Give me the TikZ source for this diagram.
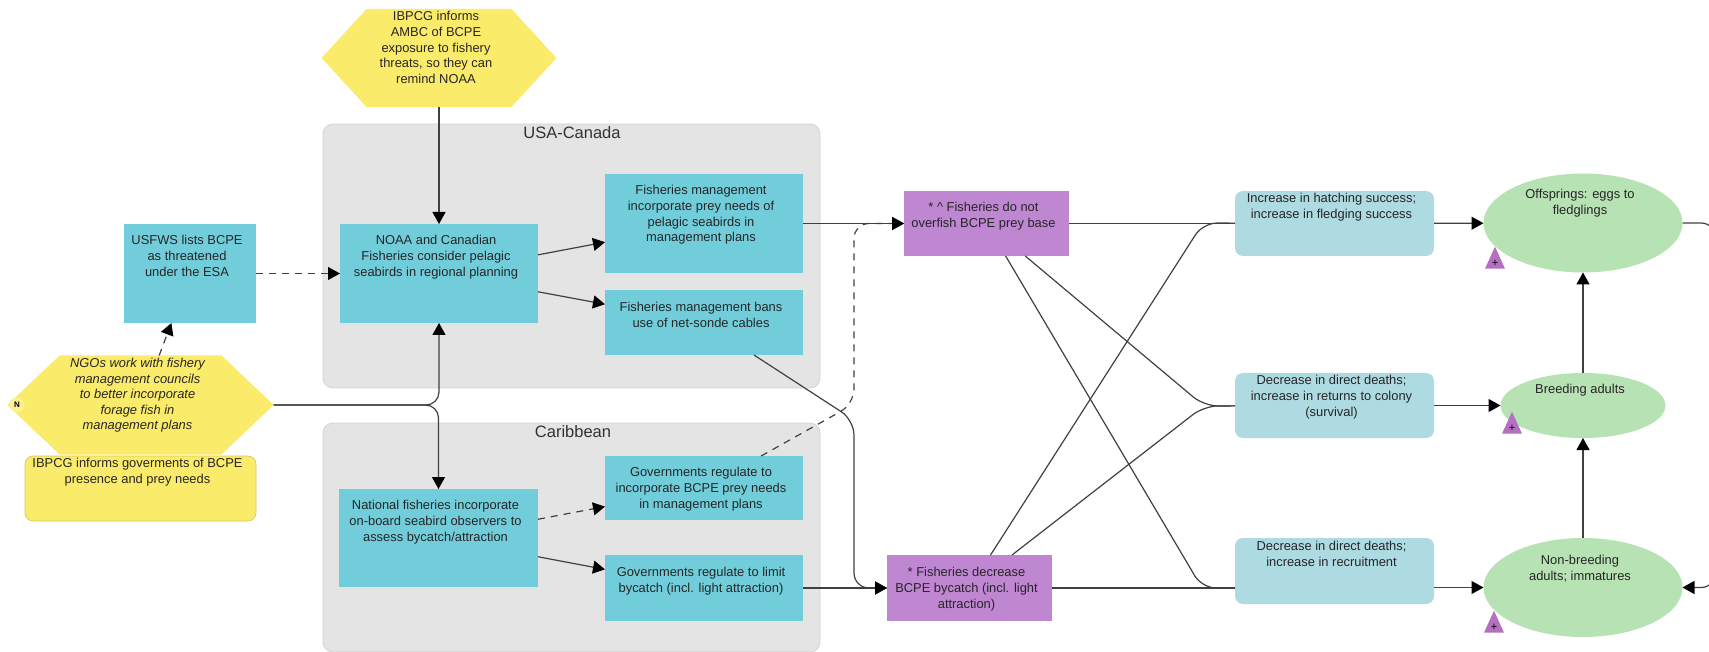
\documentclass[tikz,border=0pt]{standalone}
\usepackage{xcolor}
\usepackage{fontspec}
\setmainfont{Liberation Sans}
\usepackage{tikz}
\usetikzlibrary{arrows.meta}
\usetikzlibrary{calc}
\usetikzlibrary{shapes}
\definecolor{C0}{HTML}{72CDDB}
\definecolor{C1}{HTML}{FBEB6B}
\definecolor{C2}{HTML}{BF86D2}
\definecolor{C3}{HTML}{AEDAE2}
\definecolor{C4}{HTML}{B7E2B3}
\definecolor{C5}{HTML}{E4E4E4}
\definecolor{C6}{HTML}{B56FC0}
\definecolor{C7}{HTML}{404040}
\newcommand{\boxtext}[4]{\parbox[c][#2pt][t]{#1pt}{\centering\rightskip=6pt plus 1fil\relax\vspace*{#3pt}\strut #4}}
\tikzset{>={Triangle[length=12pt, width=13pt, color=black]}}
\tikzstyle{txt} = [inner sep=0pt, outer sep=0pt, font=\fontsize{12.9}{15.6}\selectfont, text=black!85]
\tikzstyle{group} = [rectangle, rounded corners=10pt, fill=C5, draw=C5!92!black, line width=0.8pt, minimum width=497pt]
\tikzstyle{grouplabel} = [inner sep=0pt, font=\fontsize{16.5}{19}\selectfont, text=black!80]
\tikzstyle{action} = [txt, rectangle, fill=C0]
\tikzstyle{threat} = [txt, rectangle, fill=C2]
\tikzstyle{result} = [txt, rectangle, rounded corners=8pt, fill=C3]
\tikzstyle{target} = [txt, ellipse, fill=C4, inner sep=0pt, minimum width=199pt]
\tikzstyle{hexa} = [txt, signal, signal to=west and east, signal from=nowhere, fill=C1]
\tikzstyle{plus} = [isosceles triangle, shape border rotate=90, isosceles triangle stretches, inner sep=0pt, outer sep=0pt, minimum height=22pt, minimum width=20pt, fill=C6, font=\fontsize{11}{11}\selectfont]
\tikzstyle{link} = [draw=C7, line width=1.2pt]
\tikzstyle{weak} = [link, dash pattern=on 7pt off 6pt]

\begin{document}
\begin{tikzpicture}[x=1pt, y=-1pt]
	\useasboundingbox (0, 0) rectangle (1709, 652) ;

	\node[group, minimum height=264pt] (usa) at (571.5, 256) {} ;
	\node[group, minimum height=229pt] (car) at (571.5, 537.5) {} ;
	\node[grouplabel] (usaL) at (572, 133) {USA-Canada} ;
	\node[grouplabel] (carL) at (573, 432) {Caribbean} ;

	\node[hexa, signal pointer angle=95] (ibpcgA) at (439, 58) {\boxtext{145}{98}{1}{IBPCG informs\\AMBC of BCPE\\exposure to fishery\\threats, so they can\\remind NOAA}} ;
	\node[hexa, signal pointer angle=87] (ngo) at (140.5, 405) {\boxtext{162}{99}{1}{\itshape NGOs work with fishery\\management councils\\to better incorporate\\forage fish in\\management plans}} ;
	\node[txt, rectangle, rounded corners=8pt, fill=C1, draw=C1!85!black, line width=0.6pt] (ibpcgB) at (140.5, 488.5) {\boxtext{231}{65}{1}{IBPCG informs goverments of BCPE\\presence and prey needs}} ;
	\node[circle, fill=C1!75!white, inner sep=0pt, minimum size=15pt, font=\bfseries\fontsize{8}{8}\selectfont] (N) at (17, 405) {N} ;

	\node[action] (usfws) at (190, 273.5) {\boxtext{132}{99}{10}{USFWS lists BCPE\\as threatened\\under the ESA}} ;
	\node[action] (noaa) at (439, 273.5) {\boxtext{198}{99}{10}{NOAA and Canadian\\Fisheries consider pelagic\\seabirds in regional planning}} ;
	\node[action] (fishA) at (704, 223.5) {\boxtext{198}{99}{10}{Fisheries management\\incorporate prey needs of\\pelagic seabirds in\\management plans}} ;
	\node[action] (fishB) at (704, 322.5) {\boxtext{198}{65}{11}{Fisheries management bans\\use of net-sonde cables}} ;
	\node[action] (natl) at (438.5, 538) {\boxtext{199}{98}{10}{National fisheries incorporate\\on-board seabird observers to\\assess bycatch/attraction}} ;
	\node[action] (govA) at (704, 488) {\boxtext{198}{64}{10}{Governments regulate to\\incorporate BCPE prey needs\\in management plans}} ;
	\node[action] (govB) at (704, 588) {\boxtext{198}{66}{11}{Governments regulate to limit\\bycatch (incl. light attraction)}} ;

	\node[threat] (prey) at (986.5, 223.5) {\boxtext{165}{65}{10}{* \^{} Fisheries do not\\overfish BCPE prey base}} ;
	\node[threat] (catch) at (969.5, 588) {\boxtext{165}{66}{11}{* Fisheries decrease\\BCPE bycatch (incl. light\\attraction)}} ;

	\node[result] (resA) at (1334.5, 223.5) {\boxtext{199}{65}{1}{Increase in hatching success;\\increase in fledging success}} ;
	\node[result] (resB) at (1334.5, 405.5) {\boxtext{199}{65}{1}{Decrease in direct deaths;\\increase in returns to colony\\(survival)}} ;
	\node[result] (resC) at (1334.5, 571) {\boxtext{199}{66}{2}{Decrease in direct deaths;\\increase in recruitment}} ;

	\node[target] (off) at (1583, 223) {\boxtext{140}{70}{0}{Offsprings: eggs to\\fledglings}} ;
	\node[target, minimum width=165pt, minimum height=65pt] (brd) at (1583, 405.5) {\boxtext{116}{46}{0}{Breeding adults}} ;
	\node[target] (non) at (1583, 587.5) {\boxtext{140}{70}{1}{Non-breeding\\adults; immatures}} ;

	\foreach \n/\x/\y in {1/1495/263, 2/1512/428, 3/1494/627}
	{
		\node[plus] (T\n) at (\x, \y) {+} ;
	}

	\coordinate (bendA) at (854, 420) ;
	\coordinate (bendB) at (854, 404) ;
	\coordinate (bendC) at (1204, 406) ;
	\coordinate (bendD) at (1202, 588) ;
	\coordinate (bendE) at (1203, 223) ;
	\coordinate (turnA) at (1716, 223) ;
	\coordinate (turnB) at (1716, 587.5) ;

	\foreach \a/\b in {ibpcgA/noaa, noaa/fishA, noaa/fishB, natl/govB, fishA/prey, govB/catch, resA/off, resB/brd, brd/off, non/brd}
	{
		\draw[link, ->] (\a) -- (\b) ;
	}
	\foreach \a/\b in {usfws/noaa, ngo/usfws, natl/govA}
	{
		\draw[weak, ->] (\a) -- (\b) ;
	}

	\draw[link, ->, rounded corners=13pt] (ngo) -- (ngo -| noaa) -- (noaa) ;
	\draw[link, ->, rounded corners=13pt] (ngo) -- (ngo -| natl) -- (natl) ;
	\draw[link, ->, rounded corners=15pt] (fishB) -- (bendA) -- (bendA |- catch) -- (catch) ;
	\draw[weak, ->, rounded corners=15pt] (govA) -- (bendB) -- (bendB |- prey) -- (prey) ;

	\draw[link] (prey) -- (resA) ;
	\draw[link] (catch) -- (catch -| resC.west) ;
	\draw[link, rounded corners=14pt] (prey) -- (bendC) -- (resB) ;
	\draw[link, rounded corners=14pt] (prey) -- (bendD) -- (bendD -| resC.west) ;
	\draw[link, rounded corners=14pt] (catch) -- (bendE) -- (resA) ;
	\draw[link, rounded corners=14pt] (catch) -- (bendC) -- (resB) ;
	\draw[link, ->] (non -| resC.east) -- (non) ;
	\draw[link, ->, rounded corners=15pt] (off) -- (turnA) -- (turnB) -- (non) ;
\end{tikzpicture}
\end{document}
